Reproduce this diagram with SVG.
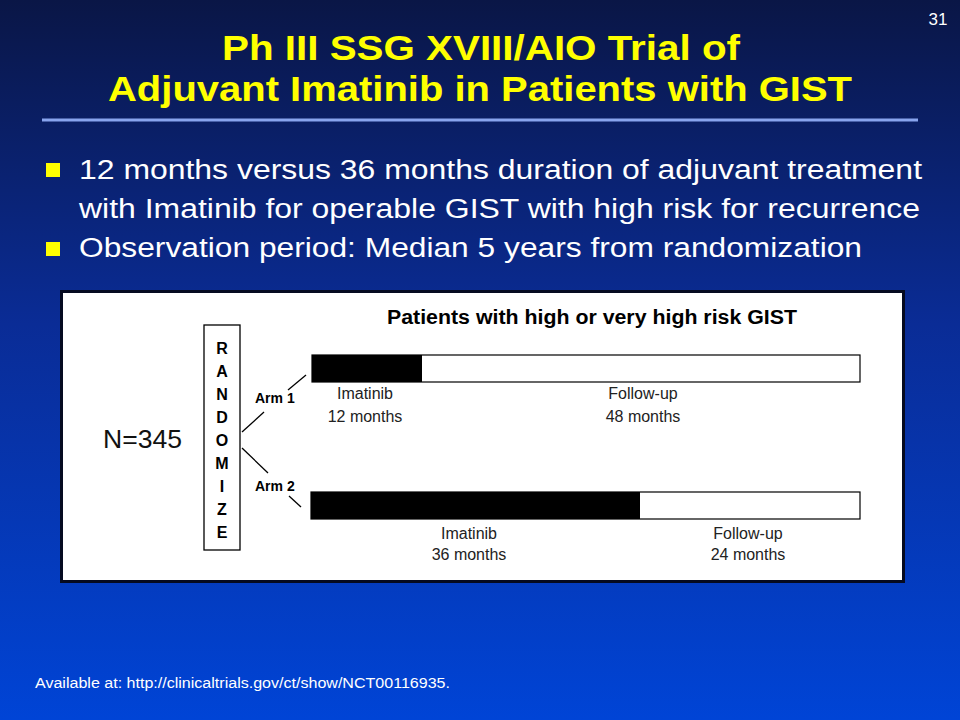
<svg xmlns="http://www.w3.org/2000/svg" width="960" height="720" viewBox="0 0 960 720">
<defs>
<linearGradient id="bg" x1="0" y1="0" x2="0" y2="1">
<stop offset="0" stop-color="#0a1646"/>
<stop offset="0.45" stop-color="#0a2c96"/>
<stop offset="1" stop-color="#0044d6"/>
</linearGradient>
<style>
.ttl{font-family:"Liberation Sans",Arial,sans-serif;font-weight:bold;font-size:35px;fill:#ffff00;text-anchor:middle}
.bul{font-family:"Liberation Sans",Arial,sans-serif;font-size:27px;fill:#ffffff}
.lab{font-family:"Liberation Sans",Arial,sans-serif;font-size:16px;fill:#222;text-anchor:middle}
.arm{font-family:"Liberation Sans",Arial,sans-serif;font-size:14px;font-weight:bold;fill:#000}
.rl{font-family:"Liberation Sans",Arial,sans-serif;font-size:16px;font-weight:bold;fill:#000;text-anchor:middle}
.ln{stroke:#000;stroke-width:1.3;fill:none}
</style>
</defs>
<rect width="960" height="720" fill="url(#bg)"/>
<text x="938" y="25" font-family="Liberation Sans, Arial, sans-serif" font-size="17" fill="#fff" text-anchor="middle">31</text>
<text class="ttl" x="481" y="60" textLength="518" lengthAdjust="spacingAndGlyphs">Ph III SSG XVIII/AIO Trial of</text>
<text class="ttl" x="480" y="101" textLength="744" lengthAdjust="spacingAndGlyphs">Adjuvant Imatinib in Patients with GIST</text>
<rect x="42" y="118.5" width="876" height="3" fill="#88a4ee"/>
<rect x="46" y="163" width="14" height="14" fill="#ffff00"/>
<rect x="46" y="242" width="14" height="14" fill="#ffff00"/>
<text class="bul" x="79" y="179" textLength="843" lengthAdjust="spacingAndGlyphs">12 months versus 36 months duration of adjuvant treatment</text>
<text class="bul" x="79" y="218" textLength="841" lengthAdjust="spacingAndGlyphs">with Imatinib for operable  GIST with high risk for recurrence</text>
<text class="bul" x="79" y="257" textLength="783" lengthAdjust="spacingAndGlyphs">Observation period: Median 5 years from randomization</text>
<g id="panel">
<rect x="61.5" y="291.5" width="842" height="290" fill="#ffffff" stroke="#050a20" stroke-width="3"/>
<text x="592" y="324" font-family="Liberation Sans, Arial, sans-serif" font-size="20" font-weight="bold" fill="#000" text-anchor="middle" textLength="410" lengthAdjust="spacingAndGlyphs">Patients with high or very high risk GIST</text>
<text x="103" y="448" font-family="Liberation Sans, Arial, sans-serif" font-size="25" fill="#111" textLength="79" lengthAdjust="spacingAndGlyphs">N=345</text>
</g>
<g id="randomize">
<rect x="204" y="325" width="36" height="225" fill="#fff" stroke="#000" stroke-width="1.3"/>
<text class="rl" x="222" y="354">R</text>
<text class="rl" x="222" y="377">A</text>
<text class="rl" x="222" y="400">N</text>
<text class="rl" x="222" y="423">D</text>
<text class="rl" x="222" y="446">O</text>
<text class="rl" x="222" y="469">M</text>
<text class="rl" x="222" y="492">I</text>
<text class="rl" x="222" y="515">Z</text>
<text class="rl" x="222" y="538">E</text>
</g>
<g id="connectors">
<line class="ln" x1="242" y1="432" x2="264" y2="412"/>
<line class="ln" x1="288" y1="390" x2="306" y2="375"/>
<line class="ln" x1="242" y1="448" x2="268" y2="473"/>
<line class="ln" x1="289" y1="496" x2="301" y2="507"/>
<text class="arm" x="255" y="403">Arm 1</text>
<text class="arm" x="255" y="491">Arm 2</text>
</g>
<g id="arm1">
<rect x="312" y="355" width="548" height="27" fill="#fff" stroke="#000" stroke-width="1.2"/>
<rect x="312" y="355" width="110" height="27" fill="#000"/>
<text class="lab" x="365" y="399">Imatinib</text>
<text class="lab" x="365" y="422">12 months</text>
<text class="lab" x="643" y="399">Follow-up</text>
<text class="lab" x="643" y="422">48 months</text>
</g>
<g id="arm2">
<rect x="311" y="492" width="549" height="27" fill="#fff" stroke="#000" stroke-width="1.2"/>
<rect x="311" y="492" width="329" height="27" fill="#000"/>
<text class="lab" x="469" y="539">Imatinib</text>
<text class="lab" x="469" y="560">36 months</text>
<text class="lab" x="748" y="539">Follow-up</text>
<text class="lab" x="748" y="560">24 months</text>
</g>
<text x="35" y="688" font-family="Liberation Sans, Arial, sans-serif" font-size="14" fill="#fff" textLength="415" lengthAdjust="spacingAndGlyphs">Available at: http://clinicaltrials.gov/ct/show/NCT00116935.</text>
</svg>
